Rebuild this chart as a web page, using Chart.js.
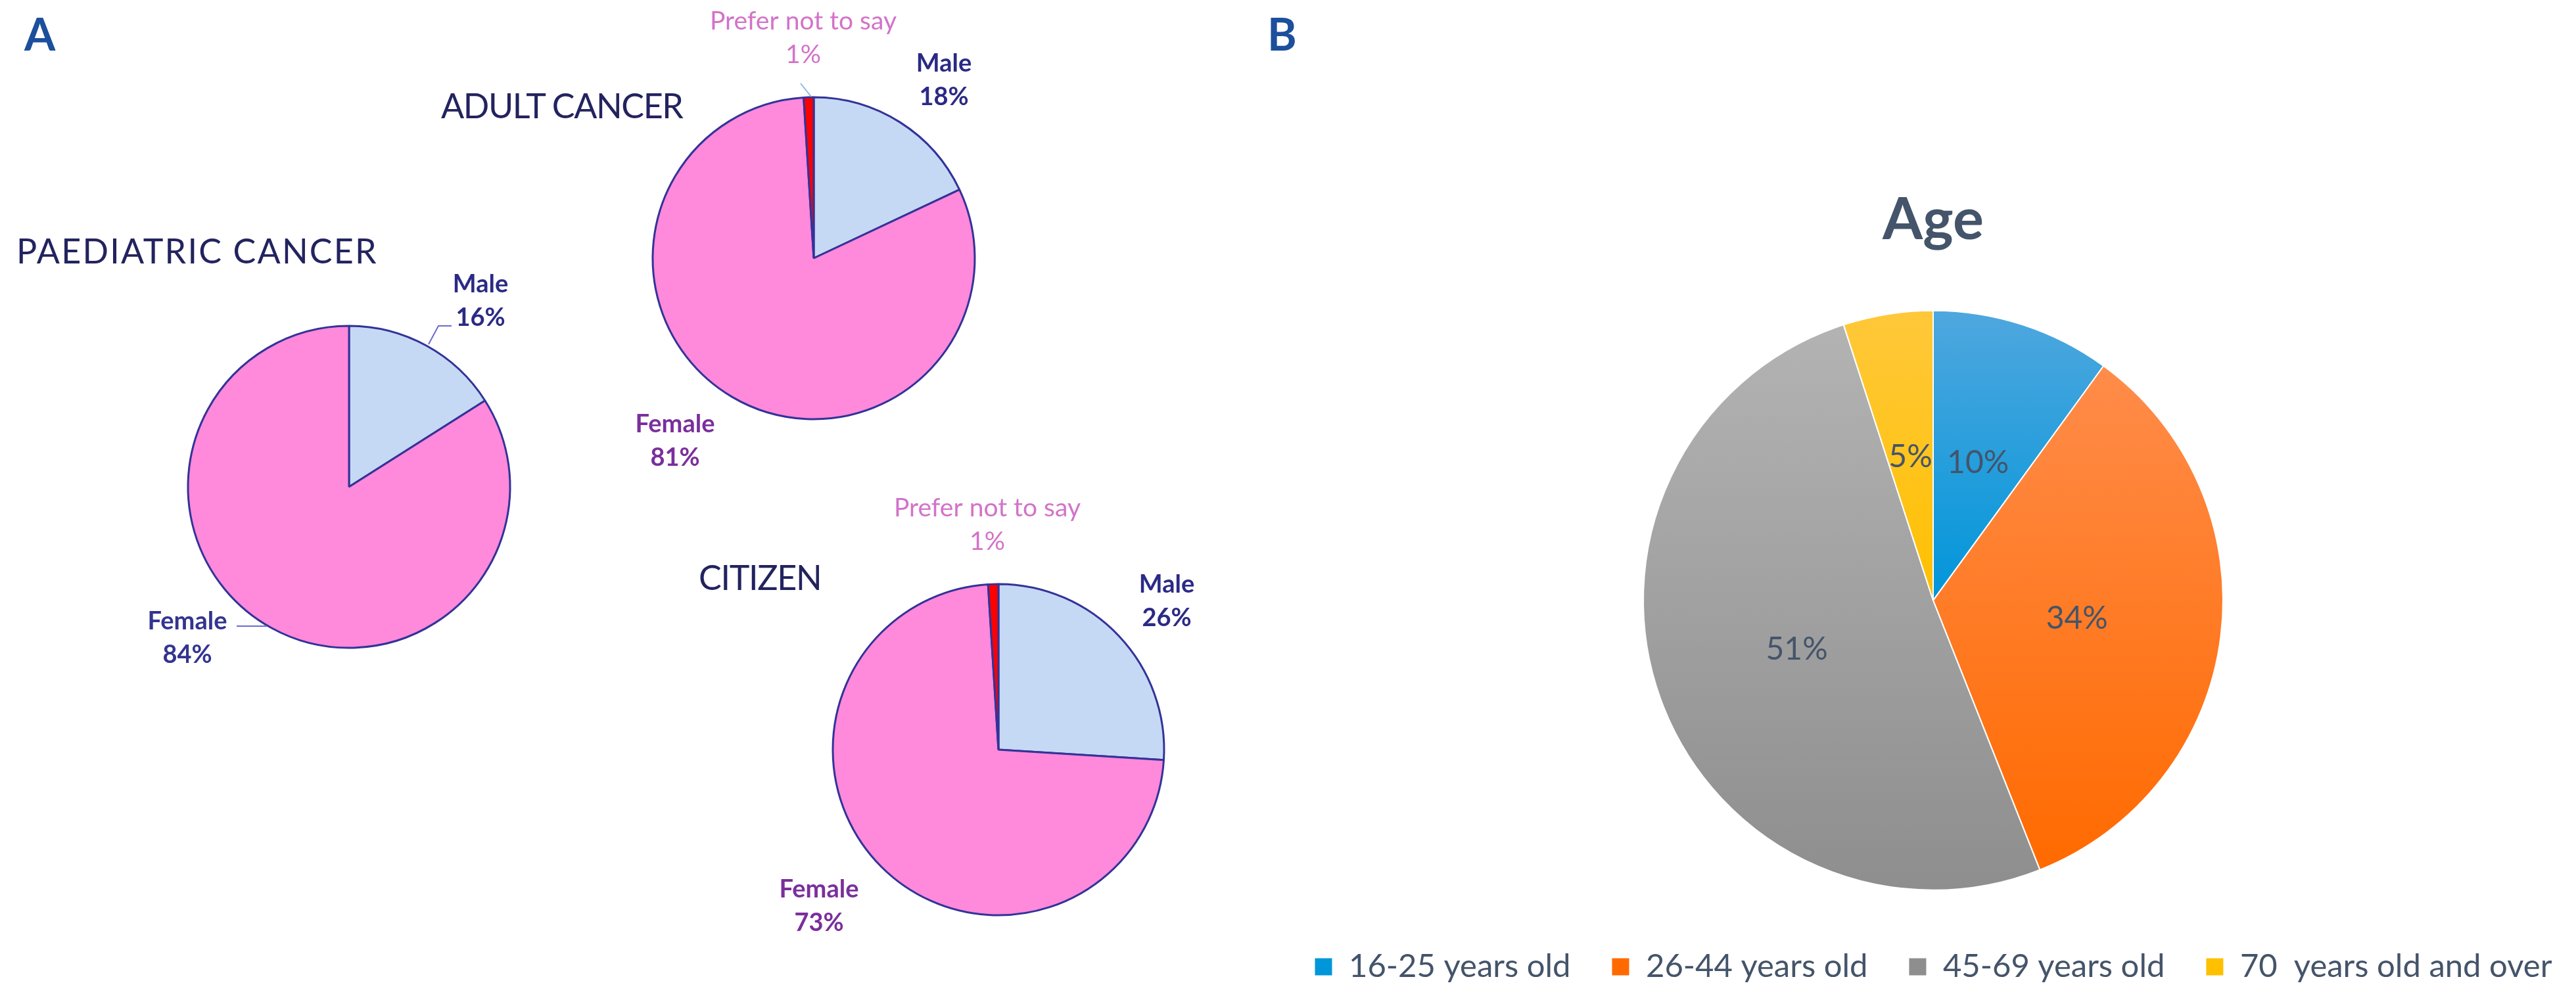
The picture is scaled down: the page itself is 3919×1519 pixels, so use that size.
<!DOCTYPE html>
<html><head><meta charset="utf-8">
<script src="https://cdn.jsdelivr.net/npm/chart.js@4.4.1/dist/chart.umd.min.js"></script>
<style>
html,body{margin:0;padding:0;background:#fff;width:3919px;height:1519px;overflow:hidden;}
#wrap{position:relative;width:3919px;height:1519px;overflow:hidden;}
canvas{position:absolute;top:0;}
.txt{position:absolute;white-space:nowrap;font-family:Lato,sans-serif;line-height:1;}
.panel{font-weight:bold;font-size:68px;color:#1c4f9c;}
.ttl{font-size:52px;color:#23235f;}
</style></head><body>
<div id="wrap">
<canvas id="cPaed" width="3919" height="1519" style="left:0"></canvas>
<canvas id="cAdult" width="3919" height="1519" style="left:0"></canvas>
<canvas id="cCit" width="3919" height="1519" style="left:0"></canvas>
<canvas id="cAge" width="2044" height="1519" style="left:1919px"></canvas>
<div class="txt panel" style="left:37px;top:17px">A</div>
<div class="txt panel" style="left:1928px;top:17px">B</div>
<div class="txt ttl" style="left:25px;top:355px;letter-spacing:2.2px">PAEDIATRIC CANCER</div>
<div class="txt ttl" style="left:671px;top:134px;letter-spacing:-1.4px">ADULT CANCER</div>
<div class="txt ttl" style="left:1063px;top:852px;letter-spacing:-1.3px">CITIZEN</div>
</div>
<script>
// ---------------- data ----------------
const genderLabels = ['Male', 'Female', 'Prefer not to say'];
const paediatricValues = [16, 84];
const adultValues = [18, 81, 1];
const citizenValues = [26, 73, 1];

const ageLabels = ['16-25 years old', '26-44 years old', '45-69 years old', '70  years old and over'];
const ageValues = [10, 34, 51, 5];

// ---------------- styles ----------------
const genderColors = ['#c5d9f4', '#ff89da', '#ff0000'];
const genderBorder = '#333399';
const ageTop = ['#4fa7de', '#ff8c4a', '#b3b3b3', '#ffc83a'];
const ageBottom = ['#0096da', '#ff6a00', '#8e8e8e', '#ffc000'];
const AGE_RADIUS = 441;

const W = 3919, H = 1519;

const genderLabelPlugin = {
  id: 'genderLabels',
  afterDatasetsDraw(chart, args, opts) {
    const meta = chart.getDatasetMeta(0);
    const a0 = meta.data[0];
    const cx = a0.x, cy = a0.y;
    const ctx = chart.ctx;
    ctx.save();
    (opts.leaders || []).forEach(l => {
      ctx.beginPath();
      ctx.strokeStyle = l.color;
      ctx.lineWidth = 2;
      l.pts.forEach((p, i) => i ? ctx.lineTo(cx + p[0], cy + p[1]) : ctx.moveTo(cx + p[0], cy + p[1]));
      ctx.stroke();
    });
    const vals = chart.data.datasets[0].data;
    ctx.textAlign = 'center';
    ctx.textBaseline = 'middle';
    vals.forEach((v, i) => {
      const p = opts.pos[i];
      ctx.fillStyle = opts.colors[i];
      ctx.font = opts.fonts[i];
      ctx.fillText(chart.data.labels[i], cx + p[0], cy + p[1]);
      ctx.fillText(v + '%', cx + p[0], cy + p[1] + 51);
    });
    ctx.restore();
  }
};

const labFonts = ['bold 38px Lato', 'bold 38px Lato', '39px Lato'];

function genderChart(id, values, center, radius, lab) {
  const R0 = 262;
  const [cx, cy] = center;
  return new Chart(document.getElementById(id), {
    type: 'pie',
    data: {
      labels: genderLabels.slice(0, values.length),
      datasets: [{
        data: values,
        backgroundColor: genderColors.slice(0, values.length),
        borderColor: genderBorder,
        borderWidth: 3,
        radius: radius
      }]
    },
    options: {
      responsive: false, animation: false, events: [],
      layout: { padding: { left: cx - R0, right: W - cx - R0, top: cy - R0, bottom: H - cy - R0 } },
      plugins: { legend: { display: false }, tooltip: { enabled: false }, genderLabels: lab }
    },
    plugins: [genderLabelPlugin]
  });
}

genderChart('cPaed', paediatricValues, [531, 741], 245, {
  pos: [[200, -308], [-246, 205]],
  colors: ['#2b2a85', '#343490'],
  fonts: labFonts,
  leaders: [
    { pts: [[121, -217], [136, -245], [156, -245]], color: '#6b6bd0' },
    { pts: [[-171, 212], [-125, 212]], color: '#6b6bd0' }
  ]
});
genderChart('cAdult', adultValues, [1238, 393], 245, {
  pos: [[198, -296], [-211, 253], [-16, -361]],
  colors: ['#2b2a85', '#7a2f9c', '#d373c8'],
  fonts: labFonts,
  leaders: [{ pts: [[-20, -266], [-4, -246]], color: '#8ab4e8' }]
});
genderChart('cCit', citizenValues, [1519, 1141], 252, {
  pos: [[256, -251], [-273, 213], [-17, -368]],
  colors: ['#2b2a85', '#7a2f9c', '#d373c8'],
  fonts: labFonts,
  leaders: []
});

// ---------------- age chart ----------------
function ageGradient(context) {
  const chart = context.chart;
  const area = chart.chartArea;
  const i = context.dataIndex;
  if (!area) return ageBottom[i];
  const data = chart.data.datasets[0].data;
  const total = data.reduce((a, b) => a + b, 0);
  let before = 0;
  for (let k = 0; k < i; k++) before += data[k];
  const s0 = -Math.PI / 2 + 2 * Math.PI * before / total;
  const s1 = s0 + 2 * Math.PI * data[i] / total;
  const cy = (area.top + area.bottom) / 2;
  let ymin = cy, ymax = cy;
  for (let s = 0; s <= 80; s++) {
    const a = s0 + (s1 - s0) * s / 80;
    const y = cy + AGE_RADIUS * Math.sin(a);
    ymin = Math.min(ymin, y); ymax = Math.max(ymax, y);
  }
  const g = chart.ctx.createLinearGradient(0, ymin, 0, ymax);
  g.addColorStop(0, ageTop[i]);
  g.addColorStop(1, ageBottom[i]);
  return g;
}

const ageLabelPlugin = {
  id: 'ageLabels',
  afterDatasetsDraw(chart) {
    const ctx = chart.ctx;
    const meta = chart.getDatasetMeta(0);
    const vals = chart.data.datasets[0].data;
    ctx.save();
    ctx.font = '48px Lato';
    ctx.fillStyle = '#44546a';
    ctx.textAlign = 'center';
    ctx.textBaseline = 'middle';
    meta.data.forEach((arc, i) => {
      const p = arc.tooltipPosition();
      ctx.fillText(vals[i] + '%', p.x, p.y);
    });
    ctx.restore();
  }
};

new Chart(document.getElementById('cAge'), {
  type: 'pie',
  data: {
    labels: ageLabels,
    datasets: [{
      data: ageValues,
      backgroundColor: ageGradient,
      borderColor: '#ffffff',
      borderWidth: 2,
      radius: AGE_RADIUS
    }]
  },
  options: {
    responsive: false, animation: false, events: [],
    layout: { padding: { left: 0, right: 0, top: 0, bottom: 13 } },
    plugins: {
      title: {
        display: true, text: 'Age', color: '#44546a',
        font: { family: 'Lato', size: 88, weight: 'bold' },
        padding: { top: 283, bottom: 54 }
      },
      legend: {
        position: 'bottom',
        labels: {
          font: { family: 'Lato', size: 49 }, color: '#44546a',
          boxWidth: 28, boxHeight: 28, padding: 62
        }
      },
      tooltip: { enabled: false }
    }
  },
  plugins: [ageLabelPlugin]
});
</script>
</body></html>
